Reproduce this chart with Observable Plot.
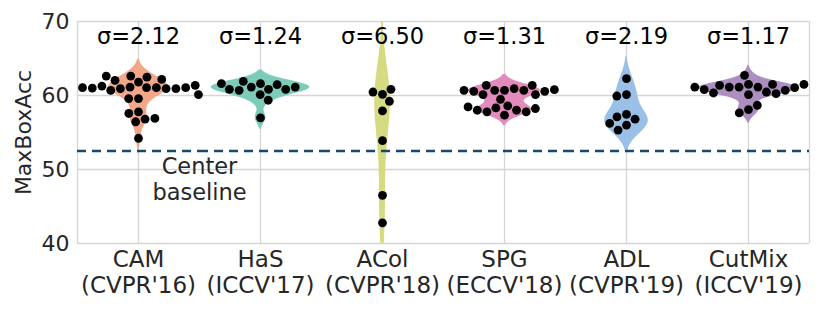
<!DOCTYPE html>
<html><head><meta charset="utf-8">
<script src="https://cdn.jsdelivr.net/npm/d3@7"></script>
<script src="https://cdn.jsdelivr.net/npm/@observablehq/plot@0.6"></script>
<style>body{margin:0;background:#fff}#chart{width:822px;height:310px}</style>
</head><body><div id="chart"></div>
<script>
// ---- data ----
const categories = ["CAM", "HaS", "ACol", "SPG", "ADL", "CutMix"];
const venues = ["(CVPR'16)", "(ICCV'17)", "(CVPR'18)", "(ECCV'18)", "(CVPR'19)", "(ICCV'19)"];
const sigmas = [2.12, 1.24, 6.50, 1.31, 2.19, 1.17];
const violinColors = ["#f2a888", "#7dccb9", "#d6db82", "#e48bbe", "#9bc0e8", "#ac8fc0"];
const camValues = [61.81, 61.14, 61.06, 61.06, 60.93, 62.62, 62.48, 62.04, 60.93, 60.70, 61.28, 62.17, 62.62, 60.93, 61.01, 61.06, 61.06, 61.37, 59.58, 59.58, 60.12, 57.79, 57.57, 56.81, 56.45, 56.90, 54.22];
const hasValues = [61.60, 61.14, 60.83, 61.46, 61.90, 60.12, 60.70, 60.83, 60.83, 61.14, 61.60, 59.36, 56.98];
const acolValues = [60.16, 60.47, 60.83, 59.22, 57.92, 53.89, 46.51, 42.80];
const spgValues = [60.70, 60.70, 60.93, 61.37, 60.70, 61.37, 60.12, 59.49, 60.12, 60.56, 60.56, 60.70, 60.79, 58.59, 58.32, 58.01, 57.79, 57.34, 57.79, 58.01, 58.24, 58.46];
const adlValues = [62.27, 60.12, 59.93, 57.44, 57.11, 56.80, 56.23, 56.00, 55.33];
const cutmixValues = [61.50, 61.14, 61.14, 61.14, 60.47, 61.50, 62.71, 61.37, 60.25, 60.12, 60.34, 60.70, 60.79, 61.06, 61.14, 61.50, 58.10, 57.65, 58.68];
const seriesValues = [camValues, hasValues, acolValues, spgValues, adlValues, cutmixValues];
const baseline = 52.5;
const baselineLabel = "Center\nbaseline";
const yTicks = [40, 50, 60, 70];
const yLabel = "MaxBoxAcc";

// ---- derived tables ----
const points = categories.flatMap((c, i) => seriesValues[i].map(v => ({cat: c, value: v})));
const yDomain = [d3.min(yTicks), d3.max(yTicks)];
function kde(cat, values) {
  const n = values.length;
  const bw = d3.deviation(values) * Math.pow(n, -1 / 5);
  const lo = Math.max(yDomain[0], d3.min(values) - 2 * bw);
  const hi = Math.min(yDomain[1], d3.max(values) + 2 * bw);
  const k = 1 / (n * bw * Math.sqrt(2 * Math.PI));
  return d3.range(0, 301).map(j => {
    const y = lo + (hi - lo) * j / 300;
    const density = k * d3.sum(values, v => Math.exp(-0.5 * ((y - v) / bw) ** 2));
    return {cat, y, density};
  });
}
const violins = categories.flatMap((c, i) => kde(c, seriesValues[i]));
const maxD = d3.max(violins, d => d.density);
const xHalf = maxD / 0.82;
const sigmaRows = categories.map((c, i) => ({cat: c, label: `σ=${sigmas[i].toFixed(2)}`}));
const tickLabel = new Map(categories.map((c, i) => [c, `${c}\n${venues[i]}`]));

const gridColor = "#d5d5d5";
const textColor = "#262626";

const chart = Plot.plot({
  width: 822, height: 310,
  marginLeft: 76, marginRight: 12, marginTop: 21, marginBottom: 67,
  style: {fontFamily: "DejaVu Sans", fontSize: "22px", background: "#fff"},
  fx: {domain: categories, padding: 0},
  x: {domain: [-xHalf, xHalf], axis: null},
  y: {domain: yDomain},
  color: {domain: categories, range: violinColors},
  marks: [
    Plot.ruleY(yTicks, {stroke: gridColor, strokeWidth: 1.3}),
    Plot.ruleX([0], {stroke: gridColor, strokeWidth: 1.3}),
    Plot.ruleX([-xHalf], {fx: () => categories[0], stroke: gridColor, strokeWidth: 1.3}),
    Plot.ruleX([xHalf], {fx: () => categories[categories.length - 1], stroke: gridColor, strokeWidth: 1.3}),
    Plot.areaX(violins, {fx: "cat", y: "y", x1: d => -d.density, x2: "density", fill: "cat", clip: true}),
    Plot.ruleY([baseline], {stroke: "#134a6e", strokeWidth: 2.5, strokeDasharray: "9,6"}),
    Plot.dot(points, Plot.dodgeX("middle", {fx: "cat", y: "value", r: 4.4, fill: "black", padding: 0.2})),
    Plot.text(sigmaRows, {fx: "cat", y: () => 68, text: "label", fill: "black", fontSize: 22.5, lineAnchor: "middle"}),
    Plot.text([baselineLabel], {fx: () => categories[0], y: () => baseline, text: d => d, frameAnchor: "right", textAnchor: "middle", lineAnchor: "top", dy: 5, fontSize: 22.5, lineHeight: 1.14, fill: textColor}),
    Plot.axisY(yTicks, {anchor: "left", tickSize: 0, tickPadding: 8, fontSize: 22, color: textColor, label: yLabel, labelAnchor: "center", labelOffset: 62, labelArrow: "none"}),
    Plot.axisFx({anchor: "bottom", label: null, tickSize: 0, tickPadding: 6, fontSize: 23, lineHeight: 1.1, color: textColor, tickFormat: c => tickLabel.get(c)})
  ]
});
document.getElementById("chart").appendChild(chart);
</script>
</body></html>
